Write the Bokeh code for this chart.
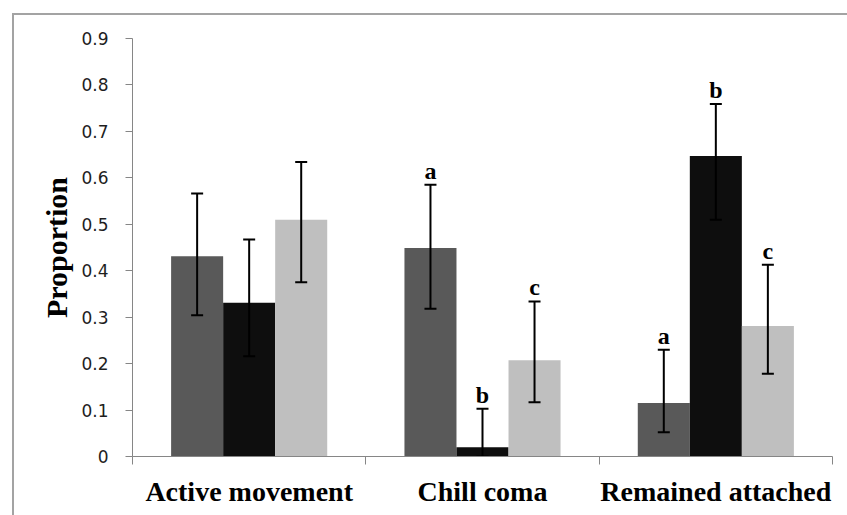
from bokeh.plotting import figure
from bokeh.models import (Range1d, FixedTicker, NumeralTickFormatter,
                          ColumnDataSource)
from bokeh.core.properties import value
from bokeh.embed import file_html
from bokeh.resources import INLINE

# ---- data ----
categories = ["Active movement", "Chill coma", "Remained attached"]
dark_values = [0.431, 0.449, 0.115]
dark_lower = [0.304, 0.318, 0.052]
dark_upper = [0.566, 0.585, 0.230]
dark_letters = ["", "a", "a"]
black_values = [0.331, 0.020, 0.647]
black_lower = [0.216, 0.0, 0.510]
black_upper = [0.467, 0.103, 0.759]
black_letters = ["", "b", "b"]
light_values = [0.510, 0.207, 0.281]
light_lower = [0.375, 0.117, 0.178]
light_upper = [0.634, 0.334, 0.413]
light_letters = ["", "c", "c"]
y_ticks = [0, 0.1, 0.2, 0.3, 0.4, 0.5, 0.6, 0.7, 0.8, 0.9]

# ---- styles ----
colors = ["#595959", "#0e0e0e", "#bfbfbf"]
bar_w = 0.223
offsets = [-bar_w, 0.0, bar_w]
axis_gray = "#868686"

p = figure(width=847, height=515, x_range=Range1d(0, len(categories)),
           y_range=Range1d(0, 0.9), output_backend="svg", toolbar_location=None,
           min_border_left=132, min_border_right=15, min_border_top=38,
           min_border_bottom=59)
# outer chart frame: only its left and top edges fall inside the window
p.styles = {"box-shadow": "inset 12px 13px 0 0 #ffffff, inset 14px 15px 0 0 #a3a3a3"}
p.outline_line_color = None
p.xgrid.visible = False
p.ygrid.visible = False
p.background_fill_color = "white"
p.border_fill_alpha = 0

all_series = [
    (dark_values, dark_lower, dark_upper, dark_letters),
    (black_values, black_lower, black_upper, black_letters),
    (light_values, light_lower, light_upper, light_letters),
]
centers = [i + 0.5 for i in range(len(categories))]
for k, (vals, lo, up, lets) in enumerate(all_series):
    xs = [c + offsets[k] for c in centers]
    src = ColumnDataSource(dict(x=xs, top=vals, lower=lo, upper=up,
                                lab=lets, ly=[u + 0.03 for u in up]))
    p.vbar(x="x", top="top", bottom=0, width=bar_w, source=src,
           fill_color=colors[k], line_color=None)
    p.segment(x0="x", y0="lower", x1="x", y1="upper", source=src,
              line_color="black", line_width=2)
    p.scatter(x="x", y="upper", marker="dash", size=12, source=src,
              line_color="black", line_width=2)
    p.scatter(x="x", y="lower", marker="dash", size=12, source=src,
              line_color="black", line_width=2)
    p.text(x="x", y="ly", text="lab", source=src, text_align="center",
           text_baseline="alphabetic", text_font=value("Liberation Serif"),
           text_font_style="bold", text_font_size="24px", text_color="black")

# x axis
p.xaxis.ticker = FixedTicker(ticks=centers, minor_ticks=list(range(len(categories) + 1)))
p.xaxis.major_label_overrides = {c: name for c, name in zip(centers, categories)}
p.xaxis.axis_line_color = axis_gray
p.xaxis.major_tick_line_color = None
p.xaxis.major_tick_out = 0
p.xaxis.major_tick_in = 0
p.xaxis.minor_tick_line_color = axis_gray
p.xaxis.minor_tick_out = 8
p.xaxis.minor_tick_in = 0
p.xaxis.major_label_standoff = 11
p.xaxis.major_label_text_font = "Liberation Serif"
p.xaxis.major_label_text_font_style = "bold"
p.xaxis.major_label_text_font_size = "28px"
p.xaxis.major_label_text_color = "black"

# y axis
p.yaxis.ticker = FixedTicker(ticks=y_ticks, minor_ticks=[])
p.yaxis.formatter = NumeralTickFormatter(format="0.[0]")
p.yaxis.axis_line_color = axis_gray
p.yaxis.major_tick_line_color = axis_gray
p.yaxis.major_tick_out = 7
p.yaxis.major_tick_in = 0
p.yaxis.minor_tick_line_color = None
p.yaxis.major_label_standoff = 17
p.yaxis.major_label_text_font = "DejaVu Sans"
p.yaxis.major_label_text_font_size = "17px"
p.yaxis.major_label_text_color = "#1e1e1e"
p.yaxis.axis_label = "Proportion"
p.yaxis.axis_label_text_font = "Liberation Serif"
p.yaxis.axis_label_text_font_style = "bold"
p.yaxis.axis_label_text_font_size = "30px"
p.yaxis.axis_label_text_color = "black"
p.yaxis.axis_label_standoff = 5

open("out.html", "w").write(file_html(p, INLINE))
